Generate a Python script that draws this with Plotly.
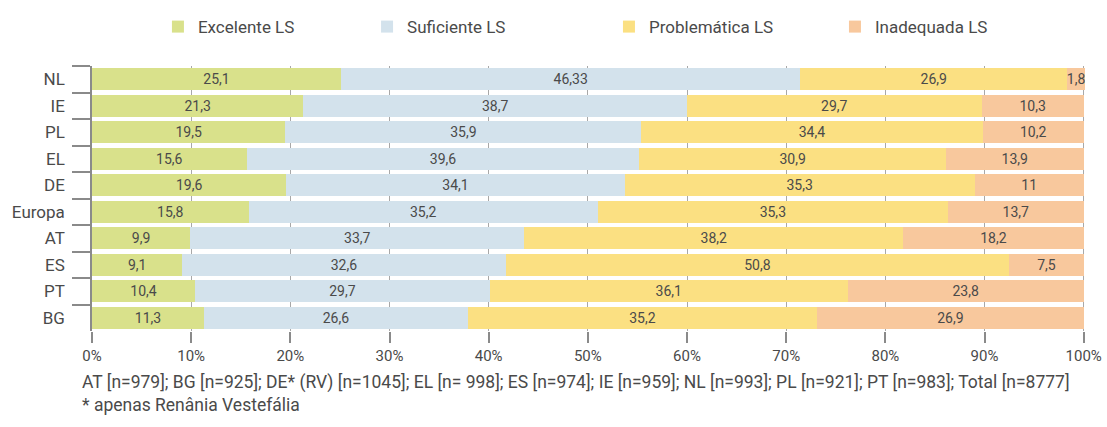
import plotly.graph_objects as go

# categories (top to bottom)
paises = ["NL", "IE", "PL", "EL", "DE", "Europa", "AT", "ES", "PT", "BG"]

# series values (%)
excelente = [25.1, 21.3, 19.5, 15.6, 19.6, 15.8, 9.9, 9.1, 10.4, 11.3]
suficiente = [46.33, 38.7, 35.9, 39.6, 34.1, 35.2, 33.7, 32.6, 29.7, 26.6]
problematica = [26.9, 29.7, 34.4, 30.9, 35.3, 35.3, 38.2, 50.8, 36.1, 35.2]
inadequada = [1.8, 10.3, 10.2, 13.9, 11, 13.7, 18.2, 7.5, 23.8, 26.9]

x_ticks = [0, 10, 20, 30, 40, 50, 60, 70, 80, 90, 100]
x_labels = ["0%", "10%", "20%", "30%", "40%", "50%", "60%", "70%", "80%", "90%", "100%"]

nota1 = ("AT [n=979]; BG [n=925]; DE* (RV) [n=1045]; EL [n= 998]; ES [n=974]; "
         "IE [n=959]; NL [n=993]; PL [n=921]; PT [n=983]; Total [n=8777]")
nota2 = "* apenas Renânia Vestefália"

FONT = "Roboto, Arial, sans-serif"
TXT = "#4a4a4a"


def fmt(v):
    return f"{v:g}".replace(".", ",")


series = [
    ("Excelente LS", excelente, "#d9e18b", "legend", 0.0664),
    ("Suficiente LS", suficiente, "#d3e2ec", "legend2", 0.277),
    ("Problemática LS", problematica, "#fbe082", "legend3", 0.5206),
    ("Inadequada LS", inadequada, "#f8c89d", "legend4", 0.7482),
]

fig = go.Figure()
for name, vals, color, leg, lx in series:
    fig.add_trace(go.Bar(
        y=paises, x=vals, name=name, orientation="h",
        marker=dict(color=color, line=dict(width=0)),
        text=[fmt(v) for v in vals],
        textposition="inside", insidetextanchor="middle", textangle=0,
        textfont=dict(family=FONT, size=14, color=TXT),
        legend=leg, showlegend=True,
    ))

legend_common = dict(
    orientation="h", yanchor="middle", y=1.147, xanchor="left",
    font=dict(family=FONT, size=17, color=TXT), bgcolor="rgba(0,0,0,0)",
    visible=True,
)
fig.update_layout(
    showlegend=True,
    legend=dict(x=series[0][4], **legend_common),
    legend2=dict(x=series[1][4], **legend_common),
    legend3=dict(x=series[2][4], **legend_common),
    legend4=dict(x=series[3][4], **legend_common),
)

fig.update_layout(
    barmode="stack",
    bargap=0.17,
    width=1107, height=427,
    margin=dict(l=92, r=22, t=66, b=96, autoexpand=False),
    plot_bgcolor="white", paper_bgcolor="white",
    uniformtext=dict(minsize=14, mode="show"),
    font=dict(family=FONT, color=TXT),
)

fig.update_xaxes(
    range=[0, 100.13], tickvals=x_ticks, ticktext=x_labels,
    showgrid=True, gridcolor="#a8a8a8", gridwidth=1,
    zeroline=False, showline=False,
    ticks="outside", ticklen=11, tickcolor="#8a8a8a", tickwidth=1.5,
    tickfont=dict(family=FONT, size=15, color=TXT),
    ticklabeloverflow="allow",
    automargin=False,
)
fig.update_yaxes(
    categoryorder="array", categoryarray=paises, autorange="reversed",
    showline=True, linecolor="#8a8a8a", linewidth=1.5,
    ticks="outside", tickson="boundaries", ticklen=18,
    tickcolor="#8a8a8a", tickwidth=1.5,
    tickfont=dict(family=FONT, size=17, color=TXT),
    ticklabelstandoff=22,
    showgrid=False, automargin=False,
)

fig.add_annotation(text=nota1, xref="paper", yref="paper", x=-0.0121, y=-0.196,
                   xanchor="left", yanchor="middle", showarrow=False,
                   font=dict(family=FONT, size=17.5, color=TXT))
fig.add_annotation(text=nota2, xref="paper", yref="paper", x=-0.0121, y=-0.279,
                   xanchor="left", yanchor="middle", showarrow=False,
                   font=dict(family=FONT, size=17.5, color=TXT))

# drop the default 8px body margin so the figure fills the window exactly
fig.write_html("out.html", config={"displayModeBar": False},
               post_script="document.body.style.margin='0';")
